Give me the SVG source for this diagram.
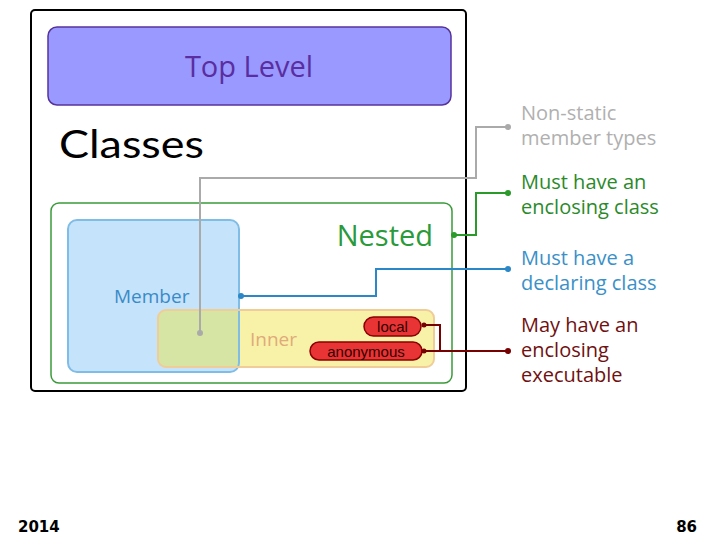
<svg xmlns="http://www.w3.org/2000/svg" width="720" height="540" viewBox="0 0 720 540">
<style>
.lbl{font-family:"Open Sans","DejaVu Sans",sans-serif;font-size:20px}
.pill{font-family:"Liberation Sans",Arial,sans-serif;font-size:15px;fill:#300}
.con{fill:none;stroke-width:2}
.foot{font-family:"DejaVu Sans",Verdana,sans-serif;font-size:15px;font-weight:bold;fill:#000}
</style>
<rect width="720" height="540" fill="#fff"/>
<g id="frame"><rect x="31" y="10" width="435" height="381" rx="4" fill="#fff" stroke="#000" stroke-width="2"/></g>
<g id="toplevel">
<rect x="48" y="27" width="403" height="78" rx="9" fill="#9999ff" stroke="#55339a" stroke-width="1.5"/>
<text x="249" y="77" text-anchor="middle" font-family="'Open Sans',sans-serif" font-size="29" fill="#5a2ea0">Top Level</text>
</g>
<g id="classes"><text x="59" y="158" font-family="Lato,sans-serif" font-size="39" textLength="145" lengthAdjust="spacingAndGlyphs" fill="#000">Classes</text></g>
<g id="nested">
<rect x="51" y="203" width="401" height="180" rx="8" fill="#fff" stroke="#3a9a3a" stroke-width="1.5"/>
<text x="433" y="246" text-anchor="end" font-family="'Open Sans',sans-serif" font-size="29" fill="#2a9a3a">Nested</text>
</g>
<g id="member">
<rect x="68" y="220" width="171" height="152" rx="9" fill="#c5e3fa"/>
</g>
<g id="inner">
<rect x="158" y="310" width="276" height="57" rx="8" fill="#f8f2a8"/>
<rect x="158" y="310" width="81" height="57" rx="8" fill="#d6e5a4"/>
<rect x="166" y="310" width="73" height="57" fill="#d6e5a4"/>
<rect x="68" y="220" width="171" height="152" rx="9" fill="none" stroke="#80bde6" stroke-width="2"/>
<rect x="158" y="310" width="276" height="57" rx="8" fill="none" stroke="#f0cc98" stroke-width="2"/>
<text x="250" y="346" font-family="'Open Sans',sans-serif" font-size="19" fill="#e0aa7a">Inner</text>
</g>
<g id="member-label"><text x="114" y="303" font-family="'Open Sans',sans-serif" font-size="19" fill="#3a8ac8">Member</text></g>
<g id="local">
<rect x="364" y="317" width="57" height="19" rx="9.5" fill="#e83434" stroke="#800" stroke-width="1.5"/>
<text x="392.5" y="331.5" text-anchor="middle" class="pill">local</text>
</g>
<g id="anonymous">
<rect x="310" y="342" width="112" height="18" rx="9" fill="#e83434" stroke="#800" stroke-width="1.5"/>
<text x="366" y="356.5" text-anchor="middle" class="pill">anonymous</text>
</g>
<g id="connectors">
<polyline class="con" stroke="#aaa" points="200,333 200,178 476,178 476,127 508,127"/>
<circle cx="200" cy="333" r="3" fill="#aaa"/><circle cx="508" cy="127" r="3" fill="#aaa"/>
<polyline class="con" stroke="#2a9a2a" points="454,235 476,235 476,193 508,193"/>
<circle cx="454" cy="235" r="3" fill="#2a9a2a"/><circle cx="508" cy="193" r="3" fill="#2a9a2a"/>
<polyline class="con" stroke="#2a88c8" points="241,296 376,296 376,269 508,269"/>
<circle cx="241" cy="296" r="3" fill="#2a88c8"/><circle cx="508" cy="269" r="3" fill="#2a88c8"/>
<polyline class="con" stroke="#700" points="424,325 440,325 440,351"/>
<polyline class="con" stroke="#700" points="424,351 508,351"/>
<circle cx="424" cy="325" r="2.5" fill="#700"/><circle cx="424" cy="351" r="2.5" fill="#700"/><circle cx="508" cy="351" r="3" fill="#700"/>
</g>
<g id="labels">
<text class="lbl" fill="#b0b0b0"><tspan x="521" y="120">Non-static</tspan><tspan x="521" y="145">member types</tspan></text>
<text class="lbl" fill="#2a8a2a"><tspan x="521" y="189">Must have an</tspan><tspan x="521" y="214">enclosing class</tspan></text>
<text class="lbl" fill="#3a90c8"><tspan x="521" y="265">Must have a</tspan><tspan x="521" y="290">declaring class</tspan></text>
<text class="lbl" fill="#701010"><tspan x="521" y="332">May have an</tspan><tspan x="521" y="357">enclosing</tspan><tspan x="521" y="382">executable</tspan></text>
</g>
<g id="footer">
<text x="18" y="532" class="foot">2014</text>
<text x="697" y="532" text-anchor="end" class="foot">86</text>
</g>
</svg>
